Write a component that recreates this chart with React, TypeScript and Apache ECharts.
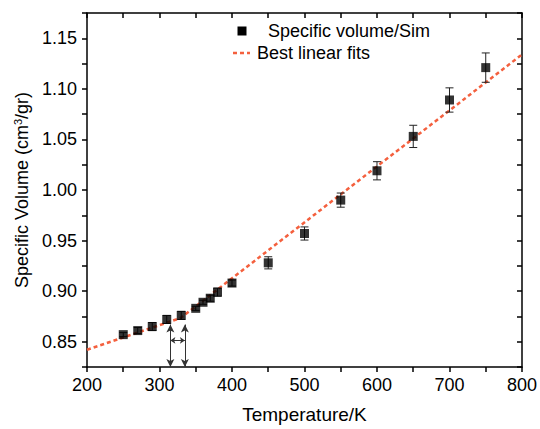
import React, { useEffect, useRef } from "react";
import * as echarts from "echarts";

const temps = [250, 270, 290, 310, 330, 350, 360, 370, 380, 400, 450, 500, 550, 600, 650, 700, 750];
const volumes = [0.857, 0.861, 0.865, 0.872, 0.876, 0.883, 0.889, 0.893, 0.899, 0.908, 0.928, 0.957, 0.990, 1.019, 1.053, 1.089, 1.121];
const errors = [0.002, 0.003, 0.004, 0.004, 0.004, 0.002, 0.002, 0.003, 0.004, 0.003, 0.006, 0.0065, 0.007, 0.009, 0.011, 0.012, 0.0145];
const fitTemps = [200, 329, 800];
const fitVolumes = [0.842, 0.8734, 1.134];
const transitionTemps = [315, 335];
const arrowTop = 0.867;
const arrowBottom = 0.825;
const spanLevel = 0.8513;

const FONT = "'Liberation Sans', Arial, sans-serif";
const FIT_COLOR = "#f4603e";

export default function App() {
  const ref = useRef<HTMLDivElement>(null);
  useEffect(() => {
    if (!ref.current) return;
    const chart = echarts.init(ref.current, null, { renderer: "svg" });
    const pts = temps.map((t, i) => [t, volumes[i]]);
    const errData = temps.map((t, i) => [t, volumes[i] - errors[i], volumes[i] + errors[i]]);
    const fitData = fitTemps.map((t, i) => [t, fitVolumes[i]]);
    const isMult = (v: number, step: number) => Math.abs(v / step - Math.round(v / step)) < 1e-6;
    const axisLine = { show: true, lineStyle: { color: "#000", width: 1.5 } };
    chart.setOption({
      animation: false,
      backgroundColor: "#fff",
      grid: { left: 87, right: 15, top: 13, bottom: 60, containLabel: false },
      xAxis: [
        {
          type: "value", min: 200, max: 800, interval: 50,
          axisLine, splitLine: { show: false },
          axisTick: { show: true, inside: false, length: 5, lineStyle: { color: "#000", width: 1.5 } },
          axisLabel: {
            margin: 9, fontSize: 18, color: "#000", fontFamily: FONT,
            formatter: (v: number) => (isMult(v, 100) ? String(Math.round(v)) : ""),
          },
          name: "Temperature/K", nameLocation: "middle", nameGap: 38,
          nameTextStyle: { fontSize: 19, color: "#000", fontFamily: FONT },
        },
        {
          type: "value", position: "top", min: 200, max: 800, interval: 50,
          axisLine, splitLine: { show: false },
          axisTick: { show: true, inside: true, length: 5, lineStyle: { color: "#000", width: 1.5 } },
          axisLabel: { show: false },
        },
      ],
      yAxis: [
        {
          type: "value", min: 0.825, max: 1.175, interval: 0.025,
          axisLine, splitLine: { show: false },
          axisTick: { show: true, inside: false, length: 5, lineStyle: { color: "#000", width: 1.5 } },
          axisLabel: {
            margin: 10, fontSize: 18, color: "#000", fontFamily: FONT,
            formatter: (v: number) => (isMult(v, 0.05) ? v.toFixed(2) : ""),
          },
          name: "Specific Volume (cm{sup|3}/gr)", nameLocation: "middle", nameGap: 54,
          nameTextStyle: {
            fontSize: 18, color: "#000", fontFamily: FONT,
            rich: { sup: { fontSize: 11, fontFamily: FONT, color: "#000", padding: [0, 0, 9, 0] } },
          },
        },
        {
          type: "value", position: "right", min: 0.825, max: 1.175, interval: 0.025,
          axisLine, splitLine: { show: false },
          axisTick: { show: true, inside: true, length: 5, lineStyle: { color: "#000", width: 1.5 } },
          axisLabel: { show: false },
        },
      ],
      series: [
        {
          name: "Best linear fits", type: "line", data: fitData, showSymbol: false, symbol: "none",
          lineStyle: { color: FIT_COLOR, width: 2.5, type: [4, 3] }, z: 2,
        },
        {
          name: "errorbars", type: "custom", data: errData, z: 3,
          renderItem: (params: any, api: any) => {
            const x = api.value(0);
            const lo = api.coord([x, api.value(1)]);
            const hi = api.coord([x, api.value(2)]);
            const cap = 4;
            const style = { stroke: "#222", lineWidth: 1 };
            return {
              type: "group",
              children: [
                { type: "line", shape: { x1: lo[0], y1: lo[1], x2: hi[0], y2: hi[1] }, style },
                { type: "line", shape: { x1: lo[0] - cap, y1: lo[1], x2: lo[0] + cap, y2: lo[1] }, style },
                { type: "line", shape: { x1: hi[0] - cap, y1: hi[1], x2: hi[0] + cap, y2: hi[1] }, style },
              ],
            };
          },
        },
        {
          name: "Specific volume/Sim", type: "scatter", data: pts, symbol: "rect", symbolSize: 9,
          itemStyle: { color: "#000" }, z: 4,
          markLine: {
            silent: true, symbol: ["arrow", "arrow"], symbolSize: [6, 8],
            lineStyle: { color: "#333", width: 1, type: "solid" },
            label: { show: false },
            data: [
              [{ coord: [transitionTemps[0], arrowTop] }, { coord: [transitionTemps[0], arrowBottom] }],
              [{ coord: [transitionTemps[1], arrowTop] }, { coord: [transitionTemps[1], arrowBottom] }],
              [
                { coord: [transitionTemps[0], spanLevel], symbolSize: [5, 5] },
                { coord: [transitionTemps[1], spanLevel], symbolSize: [5, 5] },
              ],
            ],
          },
        },
      ],
      graphic: [
        { type: "rect", shape: { x: 237.5, y: 26.5, width: 9, height: 9 }, style: { fill: "#000" } },
        { type: "text", x: 268, y: 31, style: { text: "Specific volume/Sim", fontSize: 18, fontFamily: FONT, fill: "#000", verticalAlign: "middle" } },
        { type: "line", shape: { x1: 233, y1: 53, x2: 250, y2: 53 }, style: { stroke: FIT_COLOR, lineWidth: 2.5, lineDash: [4, 3] } },
        { type: "text", x: 257, y: 53, style: { text: "Best linear fits", fontSize: 18, fontFamily: FONT, fill: "#000", verticalAlign: "middle" } },
      ],
    });
    return () => chart.dispose();
  }, []);
  return <div ref={ref} style={{ width: 540, height: 429, position: "absolute", left: 0, top: 0 }} />;
}
